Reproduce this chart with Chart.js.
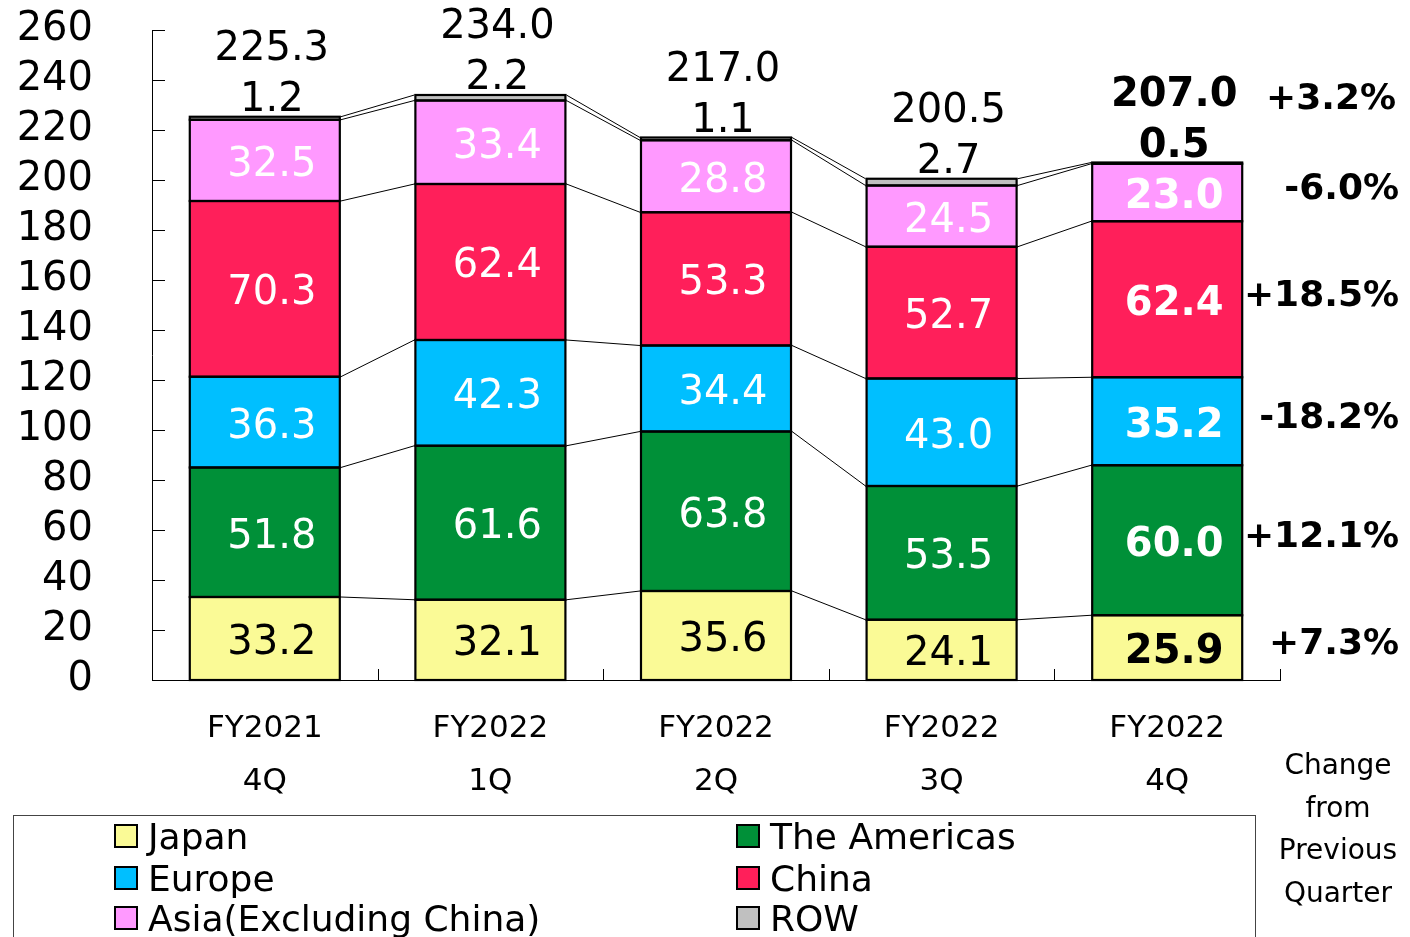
<!DOCTYPE html>
<html>
<head>
<meta charset="utf-8">
<script src="https://cdn.jsdelivr.net/npm/chart.js@4/dist/chart.umd.min.js"></script>
<style>
body { margin: 0; background: #fff; }
canvas { display: block; }
</style>
</head>
<body>
<canvas id="myChart" width="1410" height="937"></canvas>
<script>
// data
let categories = [['FY2021', '4Q'], ['FY2022', '1Q'], ['FY2022', '2Q'], ['FY2022', '3Q'], ['FY2022', '4Q']];
let japan    = [33.2, 32.1, 35.6, 24.1, 25.9];
let americas = [51.8, 61.6, 63.8, 53.5, 60.0];
let europe   = [36.3, 42.3, 34.4, 43.0, 35.2];
let china    = [70.3, 62.4, 53.3, 52.7, 62.4];
let asia     = [32.5, 33.4, 28.8, 24.5, 23.0];
let row      = [1.2, 2.2, 1.1, 2.7, 0.5];
let totals   = ['225.3', '234.0', '217.0', '200.5', '207.0'];
let changes  = ['+7.3%', '+12.1%', '-18.2%', '+18.5%', '-6.0%'];
let totalChange = '+3.2%';
let seriesNames = ['Japan', 'The Americas', 'Europe', 'China', 'Asia(Excluding China)', 'ROW'];
let seriesColors = ['#FAFA96', '#009038', '#00BFFF', '#FF1F5A', '#FF99FF', '#C0C0C0'];

const FONT = "'DejaVu Sans', Verdana, sans-serif";
Chart.defaults.font.family = FONT;
Chart.defaults.color = '#000';

let seriesData = [japan, americas, europe, china, asia, row];

let overlay = {
    id: 'overlay',
    afterDatasetsDraw(chart) {
        let ctx = chart.ctx;
        let metas = seriesData.map((s, d) => chart.getDatasetMeta(d));
        let n = categories.length;

        ctx.save();
        ctx.strokeStyle = '#000';
        // segment outlines, centred on the edges like the original
        ctx.lineWidth = 2.2;
        metas.forEach(m => m.data.forEach(el => {
            ctx.strokeRect(el.x - el.width / 2, el.y, el.width, el.base - el.y);
        }));
        // connector lines between bars
        ctx.lineWidth = 1;
        for (let d = 0; d < metas.length; d++) {
            for (let i = 0; i < n - 1; i++) {
                let a = metas[d].data[i], b = metas[d].data[i + 1];
                ctx.beginPath();
                ctx.moveTo(a.x + a.width / 2 + 1, a.y);
                ctx.lineTo(b.x - b.width / 2 - 1, b.y);
                ctx.stroke();
            }
        }
        ctx.restore();

        // value labels
        ctx.save();
        ctx.textAlign = 'center';
        ctx.textBaseline = 'middle';
        for (let i = 0; i < n; i++) {
            let bold = (i === n - 1) ? 'bold ' : '';
            ctx.font = bold + '40px ' + FONT;
            for (let d = 0; d < 5; d++) {
                let el = metas[d].data[i];
                ctx.fillStyle = d === 0 ? '#000' : '#fff';
                ctx.fillText(seriesData[d][i].toFixed(1), el.x + 7, (el.y + el.base) / 2 + 5);
            }
            let top = metas[5].data[i];
            ctx.fillStyle = '#000';
            ctx.fillText(row[i].toFixed(1), top.x + 7, top.y - 16);
            ctx.fillText(totals[i], top.x + 7, top.y - 67);
        }

        // change from previous quarter
        let last = n - 1;
        ctx.textAlign = 'right';
        ctx.font = 'bold 36px ' + FONT;
        for (let d = 0; d < 5; d++) {
            let el = metas[d].data[last];
            ctx.fillText(changes[d], 1399, (el.y + el.base) / 2 - 3);
        }
        ctx.fillText(totalChange, 1396, metas[5].data[last].y - 63);
        ctx.restore();
    },
    afterDraw(chart) {
        let ctx = chart.ctx;
        let area = chart.chartArea;
        let y = chart.scales.y;
        ctx.save();
        ctx.strokeStyle = '#000';
        ctx.lineWidth = 1;
        // inward ticks on the y axis
        y.ticks.forEach(t => {
            let py = Math.round(y.getPixelForValue(t.value)) + 0.5;
            ctx.beginPath();
            ctx.moveTo(area.left, py);
            ctx.lineTo(area.left + 13, py);
            ctx.stroke();
        });
        // inward ticks at category boundaries
        let step = (area.right - area.left) / categories.length;
        for (let k = 1; k <= categories.length; k++) {
            let px = Math.round(area.left + k * step) + 0.5;
            ctx.beginPath();
            ctx.moveTo(px, area.bottom);
            ctx.lineTo(px, area.bottom - 11);
            ctx.stroke();
        }

        // legend box
        ctx.strokeStyle = '#444';
        ctx.strokeRect(13.5, 815.5, 1242, 140);
        let cols = [115, 737];
        let rows = [836, 878, 918];
        let order = [[0, 2, 4], [1, 3, 5]];
        ctx.font = '36px ' + FONT;
        ctx.textAlign = 'left';
        ctx.textBaseline = 'middle';
        order.forEach((col, c) => {
            col.forEach((d, r) => {
                ctx.fillStyle = seriesColors[d];
                ctx.fillRect(cols[c], rows[r] - 11, 22, 22);
                ctx.strokeStyle = '#000';
                ctx.lineWidth = 2;
                ctx.strokeRect(cols[c], rows[r] - 11, 22, 22);
                ctx.fillStyle = '#000';
                ctx.fillText(seriesNames[d], cols[c] + 33, rows[r] + 4);
            });
        });

        // side note
        ctx.font = '28px ' + FONT;
        ctx.textAlign = 'center';
        ['Change', 'from', 'Previous', 'Quarter'].forEach((s, k) => {
            ctx.fillText(s, 1338, 767 + k * 42.5);
        });
        ctx.restore();
    }
};

let ctx = document.getElementById('myChart').getContext('2d');
let myChart = new Chart(ctx, {
    type: 'bar',
    data: {
        labels: categories,
        datasets: seriesData.map((s, d) => ({
            label: seriesNames[d],
            data: s,
            backgroundColor: seriesColors[d],
            borderWidth: 0,
            barPercentage: 0.665,
            categoryPercentage: 1
        }))
    },
    options: {
        responsive: false,
        animation: false,
        layout: { padding: { top: 30, right: 130, bottom: 137, left: 0 } },
        plugins: { legend: { display: false }, tooltip: { enabled: false } },
        scales: {
            x: {
                stacked: true,
                // tick marks are drawn by the overlay; tickLength only spaces the labels
                grid: { display: false, drawTicks: true, tickLength: 17 },
                border: { display: true, color: '#000', width: 1 },
                ticks: { font: { size: 31, lineHeight: 1.71 }, color: '#000', padding: 5, maxRotation: 0 },
                afterFit(scale) { scale.height = 120; }
            },
            y: {
                stacked: true,
                min: 0,
                max: 260,
                grid: { display: false, drawTicks: true, tickLength: 53 },
                border: { display: true, color: '#000', width: 1 },
                ticks: { stepSize: 20, autoSkip: false, font: { size: 40 }, color: '#000', padding: 6 },
                afterFit(scale) { scale.width = 152; }
            }
        }
    },
    plugins: [overlay]
});
</script>
</body>
</html>
